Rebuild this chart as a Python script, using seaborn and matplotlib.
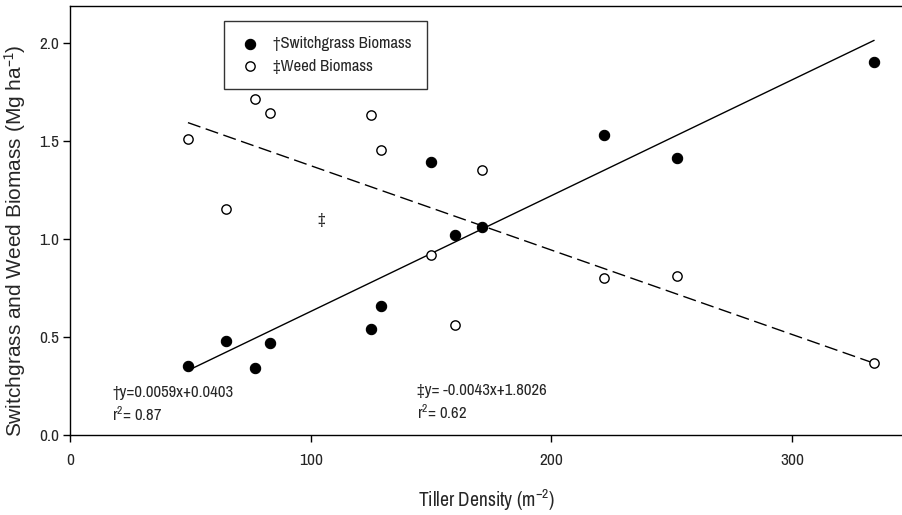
import numpy as np
import pandas as pd
import matplotlib
matplotlib.use("Agg")
import matplotlib.pyplot as plt
import seaborn as sns

# tiller density (m^-2) for each plot
tiller_density = [49, 65, 77, 83, 125, 129, 150, 160, 171, 222, 252, 334]
# switchgrass biomass (Mg ha^-1)
switchgrass = [0.35, 0.48, 0.34, 0.47, 0.54, 0.66, 1.39, 1.02, 1.06, 1.53, 1.41, 1.90]
# weed biomass (Mg ha^-1)
weed = [1.51, 1.15, 1.71, 1.64, 1.63, 1.45, 0.92, 0.56, 1.35, 0.80, 0.81, 0.37]

# regression coefficients reported on the chart
sg_slope, sg_intercept, sg_r2 = 0.0059, 0.0403, 0.87
wd_slope, wd_intercept, wd_r2 = -0.0043, 1.8026, 0.62

sns.set_style("ticks")
narrow = ['Archivo Narrow', 'Roboto Condensed', 'Liberation Sans', 'DejaVu Sans']
plt.rcParams['font.family'] = narrow
plt.rcParams['mathtext.fontset'] = 'custom'
plt.rcParams['mathtext.rm'] = 'Archivo Narrow'
plt.rcParams['mathtext.default'] = 'rm'

df = pd.DataFrame({'tiller': tiller_density, 'switchgrass': switchgrass, 'weed': weed})

fig = plt.figure(figsize=(9.03, 5.15), dpi=100)
ax = fig.add_axes([0.0775, 0.155, 0.9225, 0.833])

sns.scatterplot(data=df, x='tiller', y='switchgrass', ax=ax, s=55, color='black',
                edgecolor='black', linewidth=0.8, label='\u2020Switchgrass Biomass', zorder=3)
sns.scatterplot(data=df, x='tiller', y='weed', ax=ax, s=45, facecolor='white',
                edgecolor='black', linewidth=1.0, label='\u2021Weed Biomass', zorder=3)

# fitted lines across the observed tiller range
xs = np.array([min(tiller_density), max(tiller_density)])
sns.lineplot(x=xs, y=sg_slope * xs + sg_intercept, ax=ax, color='black', linewidth=1.0)
sns.lineplot(x=xs, y=wd_slope * xs + wd_intercept, ax=ax, color='black', linewidth=1.0,
             linestyle=(0, (9.5, 4)))

ax.text(17.5, 0.215, f'\u2020y={sg_slope}x+{sg_intercept}', fontsize=12, va='center')
ax.text(17.5, 0.105, f'r$^2$= {sg_r2}', fontsize=12, va='center')
ax.text(144, 0.225, f'\u2021y= {wd_slope}x+{wd_intercept}', fontsize=12, va='center')
ax.text(144, 0.115, f'r$^2$= {wd_r2}', fontsize=12, va='center')
ax.text(104.2, 1.10, '\u2021', fontsize=12, ha='center', va='center')

ax.set_xlim(0, 346)
ax.set_ylim(0, 2.185)
ax.set_xticks([0, 100, 200, 300])
ax.set_yticks([0.0, 0.5, 1.0, 1.5, 2.0])
ax.set_yticklabels(['0.0', '0.5', '1.0', '1.5', '2.0'])
ax.tick_params(labelsize=12.5, length=5, width=1, color='black', direction='out')
ax.tick_params(axis='x', pad=8)
ax.tick_params(axis='y', pad=2.5)
ax.set_xlabel('Tiller Density (m$^{-2}$)', fontsize=14, labelpad=14)
ax.set_ylabel('Switchgrass and Weed Biomass (Mg ha$^{-1}$)', fontsize=15,
              family=['Liberation Sans', 'DejaVu Sans'])
ax.yaxis.set_label_coords(-0.05, 0.452)
for side in ['left', 'bottom', 'top']:
    ax.spines[side].set_visible(True)
    ax.spines[side].set_color('black')
    ax.spines[side].set_linewidth(1.0)
ax.spines['right'].set_visible(False)

leg = ax.legend(loc='upper left', bbox_to_anchor=(0.185, 0.965), frameon=True,
                fancybox=False, edgecolor='black', fontsize=12, borderpad=0.9,
                borderaxespad=0, handlelength=1.3, handletextpad=0.75, labelspacing=0.45)
leg.get_frame().set_linewidth(1.0)

fig.savefig('out.png', dpi=100)
